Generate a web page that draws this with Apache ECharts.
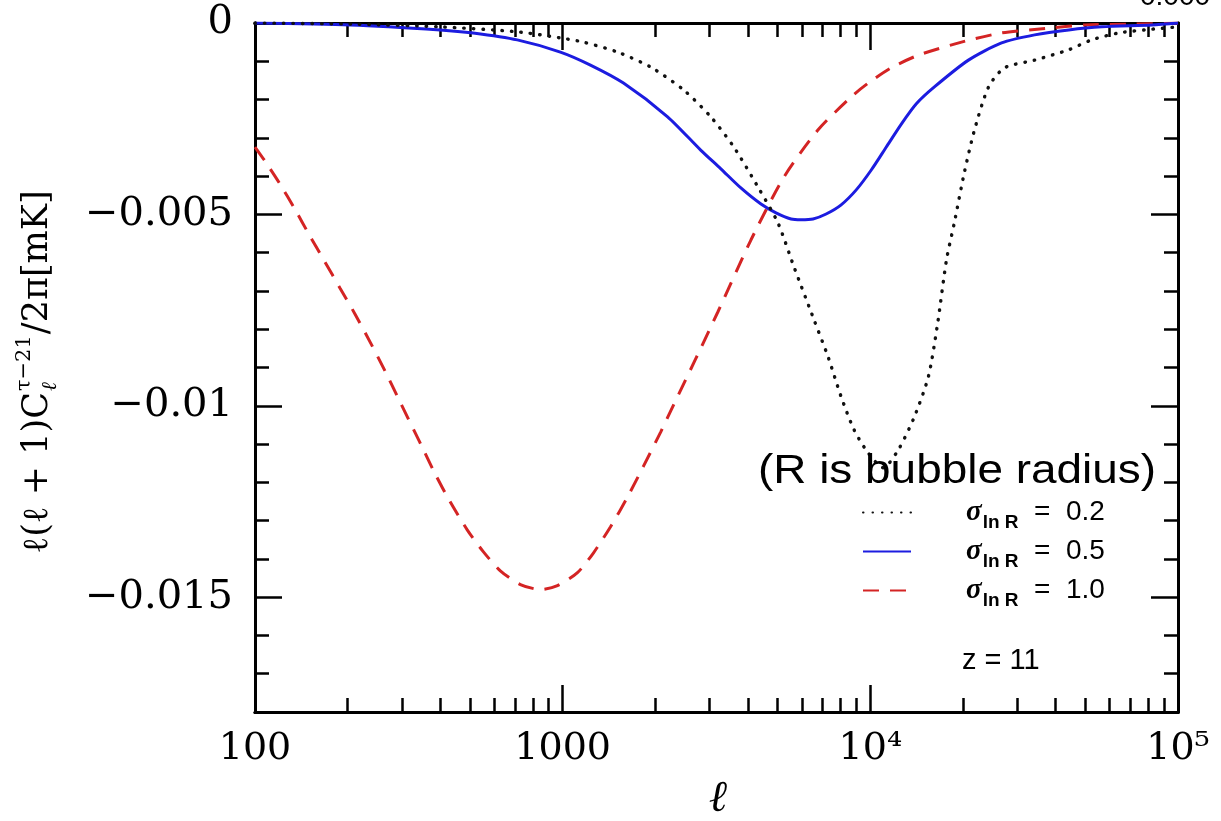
<!DOCTYPE html>
<html><head><meta charset="utf-8">
<script src="https://cdn.jsdelivr.net/npm/echarts@6/dist/echarts.min.js"></script>
<style>html,body{margin:0;padding:0;background:#fff}#c{width:1221px;height:821px}</style>
</head><body><div id="c"></div>
<script>
// ---- data ----
const xTickMajor = [100, 1000, 10000, 100000];
const xTickLabels = ['100', '1000', '10⁴', '10⁵'];
const xTickMinor = [200,300,400,500,600,700,800,900,2000,3000,4000,5000,6000,7000,8000,9000,20000,30000,40000,50000,60000,70000,80000,90000];
const yTickMajor = [0, -0.005, -0.01, -0.015];
const yTickLabels = ['0', '−0.005', '−0.01', '−0.015'];
const yTickMinor = [-0.001,-0.002,-0.003,-0.004,-0.006,-0.007,-0.008,-0.009,-0.011,-0.012,-0.013,-0.014,-0.016,-0.017];
const sigmaValues = ['0.2', '0.5', '1.0'];
const seriesNames = ['σ_lnR = 0.2', 'σ_lnR = 0.5', 'σ_lnR = 1.0'];

const ell02 = [100,214,400,712,983,1168,1508,1931,2474,3029,3600,4310,5007,5646,6558,7287,8034,8856,9835,11010,12330,13900,15440,16520,17680,18770,20230,21810,24230,27310,34200,44140,52460,64230,78050,100000];
const val02 = [0,-0.00003,-0.0001,-0.00023,-0.00039,-0.0005,-0.00076,-0.00115,-0.00175,-0.00245,-0.00324,-0.00428,-0.00522,-0.00637,-0.00775,-0.00872,-0.00976,-0.01063,-0.01123,-0.01162,-0.01115,-0.01029,-0.00924,-0.00789,-0.00619,-0.0052,-0.00389,-0.00279,-0.00167,-0.00117,-0.00097,-0.0007,-0.00044,-0.00026,-0.00018,-0.0001];

const ell05 = [100,203.8,399.6,511.7,711.8,983,1231,1576,2193,2809,3267,3795,4411,4936,5525,5955,6513,7184,8039,8999,10070,11270,12610,14110,16150,20840,26700,34200,44140,56540,82280,100000];
const val05 = [0,-0.00005,-0.00018,-0.00026,-0.00044,-0.00076,-0.0011,-0.00157,-0.00245,-0.00332,-0.00381,-0.00431,-0.00473,-0.00496,-0.00512,-0.00514,-0.00512,-0.00499,-0.00475,-0.00436,-0.00384,-0.00324,-0.00264,-0.00211,-0.00167,-0.00097,-0.00052,-0.00031,-0.00018,-0.0001,-0.00005,0];

const ell10 = [100,107.6,120.4,134.7,150.7,168.7,188.8,211.3,236.5,264.6,296.1,344.1,385,430.9,489.5,551.9,627.2,728.8,846.5,961.6,1117,1260,1431,1626,1833,2084,2296,2708,3194,4091,5243,6766,8666,9845,11700,14330,19780,26700,38850,49760,72400,100000];
const val10 = [-0.00324,-0.0036,-0.0042,-0.00486,-0.00556,-0.00624,-0.00692,-0.0076,-0.00833,-0.00909,-0.0099,-0.01097,-0.01178,-0.01251,-0.01324,-0.01381,-0.01431,-0.01467,-0.0148,-0.0147,-0.01436,-0.01384,-0.01316,-0.01238,-0.01157,-0.01068,-0.00997,-0.00877,-0.00755,-0.00567,-0.00402,-0.00279,-0.00193,-0.00157,-0.00117,-0.00084,-0.0005,-0.00026,-0.00013,-0.00005,-0.00003,0];

// ---- chart ----
const zip = (a, b) => a.map((v, i) => [v, b[i]]);
const nearestIdx = (arr, v, lg) => {
  let best = 0, bd = Infinity;
  arr.forEach((t, i) => { const d = lg ? Math.abs(Math.log10(Math.abs(t)) - Math.log10(Math.abs(v))) : Math.abs(t - v); if (d < bd) { bd = d; best = i; } });
  return best;
};
const serifFont = '"DejaVu Serif", serif';
const axisColor = '#000';

function xAx(pos, ticks, len, showLabel) {
  return {
    type: 'log', logBase: 10, min: 100, max: 100000, position: pos,
    axisLine: { show: true, onZero: false, lineStyle: { color: axisColor, width: 3 } },
    axisTick: { show: true, inside: true, length: len, customValues: ticks, lineStyle: { color: axisColor, width: 2.5 } },
    axisLabel: showLabel ? {
      show: true, customValues: xTickMajor, margin: 18, color: '#000', fontFamily: serifFont, fontSize: 38,
      formatter: v => xTickLabels[nearestIdx(xTickMajor, v, true)]
    } : { show: false },
    splitLine: { show: false }, minorTick: { show: false }
  };
}
function yAx(pos, ticks, len, showLabel) {
  return {
    type: 'value', min: -0.018, max: 0, position: pos,
    axisLine: { show: true, onZero: false, lineStyle: { color: axisColor, width: 3 } },
    axisTick: { show: true, inside: true, length: len, customValues: ticks, lineStyle: { color: axisColor, width: 2.5 } },
    axisLabel: showLabel ? {
      show: true, customValues: yTickMajor, margin: 22, color: '#000', fontFamily: serifFont, fontSize: 40,
      formatter: v => yTickLabels[nearestIdx(yTickMajor, v, false)]
    } : { show: false },
    splitLine: { show: false }, minorTick: { show: false }
  };
}

const chart = echarts.init(document.getElementById('c'), null, { renderer: 'canvas' });

// layout helper for the rotated y-axis title
const mctx = document.createElement('canvas').getContext('2d');
const tw = (t, f) => { mctx.font = f; return mctx.measureText(t).width; };
const fMain = '35px "DejaVu Serif"', fSmall = '21px "DejaVu Serif"';
const t1 = 'ℓ(ℓ + 1)C', tSup = 'τ−21', tSub = 'ℓ', t2 = '/2π[mK]';
const w1 = tw(t1, fMain), wSup = tw(tSup, fSmall), wSub = tw(tSub, fSmall), w2 = tw(t2, fMain);
const wTot = w1 + Math.max(wSup, wSub) + 2 + w2;
const x0 = -wTot / 2;

const option = {
  animation: false,
  backgroundColor: '#fff',
  grid: { left: 255, right: 43, top: 23, bottom: 109, containLabel: false },
  xAxis: [
    xAx('bottom', xTickMajor, 27, true),
    xAx('bottom', xTickMinor, 14, false),
    xAx('top', xTickMajor, 27, false),
    xAx('top', xTickMinor, 14, false)
  ],
  yAxis: [
    yAx('left', yTickMajor, 27, true),
    yAx('left', yTickMinor, 14, false),
    yAx('right', yTickMajor, 27, false),
    yAx('right', yTickMinor, 14, false)
  ],
  legend: {
    orient: 'vertical', left: 857, top: 488, itemWidth: 48, itemHeight: 14, itemGap: 0,
    data: seriesNames,
    itemStyle: { opacity: 0 },
    formatter: name => '{s|σ}{sub|ln R}{t|  =  ' + sigmaValues[seriesNames.indexOf(name)] + '}',
    textStyle: {
      rich: {
        s: { fontFamily: '"Liberation Serif"', fontStyle: 'italic', fontWeight: 'bold', fontSize: 29, lineHeight: 26, padding: [0, 0, 0, 50], color: '#000' },
        sub: { fontFamily: '"Liberation Sans"', fontWeight: 'bold', fontSize: 19, lineHeight: 6, padding: [20, 0, 0, 1], color: '#000' },
        t: { fontFamily: '"Liberation Sans"', fontSize: 28, lineHeight: 26, color: '#000' }
      }
    }
  },
  series: [
    { type: 'line', name: seriesNames[2], data: zip(ell10, val10), showSymbol: false, symbol: 'none', smooth: 0.25,
      lineStyle: { color: '#d42424', width: 3, type: [16, 11] }, itemStyle: { color: '#d42424' }, z: 3 },
    { type: 'line', name: seriesNames[1], data: zip(ell05, val05), showSymbol: false, symbol: 'none', smooth: 0.25,
      lineStyle: { color: '#1c1ce0', width: 3, type: 'solid' }, itemStyle: { color: '#1c1ce0' }, z: 4 },
    { type: 'line', name: seriesNames[0], data: zip(ell02, val02), showSymbol: false, symbol: 'none', smooth: 0.25,
      lineStyle: { color: '#111', width: 3.4, type: [0.5, 9], cap: 'round' }, itemStyle: { color: '#111' }, z: 5 }
  ],
  graphic: [
    { type: 'text', x: 957, y: 472, scaleX: 1.12, z: 100,
      style: { text: '(R is bubble radius)', font: '41px "Liberation Sans"', fill: '#000', align: 'center', verticalAlign: 'middle' } },
    { type: 'text', x: 962, y: 661, z: 100,
      style: { text: 'z = 11', font: '29px "Liberation Sans"', fill: '#000', align: 'left', verticalAlign: 'middle' } },
    { type: 'text', x: 1140, y: 11, z: 100,
      style: { text: '0.000', font: '28px "Liberation Sans"', fill: '#000', align: 'left', verticalAlign: 'bottom' } },
    { type: 'text', x: 718, y: 800, z: 100,
      style: { text: 'ℓ', font: 'italic 44px "DejaVu Serif"', fill: '#000', align: 'center', verticalAlign: 'middle' } },
    { type: 'group', x: 38, y: 372, rotation: Math.PI / 2, z: 100,
      children: [
        { type: 'text', x: x0, y: 0, style: { text: t1, font: fMain, fill: '#000', align: 'left', verticalAlign: 'middle' } },
        { type: 'text', x: x0 + w1 + 1, y: -13, style: { text: tSup, font: fSmall, fill: '#000', align: 'left', verticalAlign: 'middle' } },
        { type: 'text', x: x0 + w1 + 1, y: 13, style: { text: tSub, font: 'italic ' + fSmall, fill: '#000', align: 'left', verticalAlign: 'middle' } },
        { type: 'text', x: x0 + w1 + Math.max(wSup, wSub) + 2, y: 0, style: { text: t2, font: fMain, fill: '#000', align: 'left', verticalAlign: 'middle' } }
      ] }
  ]
};
chart.setOption(option);
</script>
</body></html>
